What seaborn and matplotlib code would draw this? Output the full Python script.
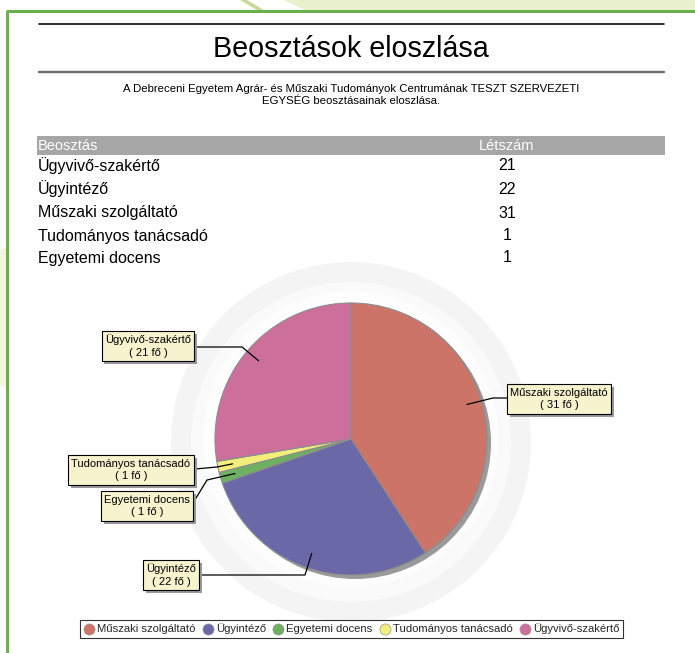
import numpy as np
import matplotlib
matplotlib.use('Agg')
import matplotlib.pyplot as plt
import matplotlib.patheffects as pe
from matplotlib.patches import Rectangle, Circle, Polygon
from matplotlib.lines import Line2D
import seaborn as sns

# DATA
title = 'Beosztások eloszlása'
subtitle = ('A Debreceni Egyetem Agrár- és Műszaki Tudományok Centrumának TESZT SZERVEZETI\n'
            'EGYSÉG beosztásainak eloszlása.')
table_head = ['Beosztás', 'Létszám']
positions = ['Ügyvivő-szakértő', 'Ügyintéző', 'Műszaki szolgáltató',
             'Tudományos tanácsadó', 'Egyetemi docens']
counts = [21, 22, 31, 1, 1]
pie_order = ['Műszaki szolgáltató', 'Ügyintéző', 'Egyetemi docens',
             'Tudományos tanácsadó', 'Ügyvivő-szakértő']
slice_colors = ['#CC7468', '#6B68A8', '#6DB060', '#F2EE7C', '#CC709B']

# layout (pixels, y from top)
W, H = 695, 653
def Y(y):
    return H - y

sns.set_theme(style='white')
plt.rcParams['font.family'] = ['Liberation Sans', 'DejaVu Sans']

fig = plt.figure(figsize=(W / 100, H / 100), dpi=100)
ax = fig.add_axes([0, 0, 1, 1])
ax.set_axis_off()

px = 0.72  # 1 px in points

# green frame decoration
ax.add_patch(Polygon([(284, Y(0)), (W, Y(0)), (W, Y(10)), (305, Y(10))],
                     closed=True, fc='#E8F0CC', ec='none', zorder=0))
ax.add_patch(Polygon([(240, Y(0)), (247, Y(0)), (264, Y(10)), (257, Y(10))],
                     closed=True, fc='#C6DA98', ec='none', zorder=0))
ax.add_patch(Polygon([(0, Y(250)), (6, Y(247)), (6, Y(388)), (0, Y(385))],
                     closed=True, fc='#F3F6DC', ec='none', zorder=0))
ax.plot([6, W], [Y(11), Y(11)], color='#6AB04C', lw=3 * px, solid_capstyle='butt', zorder=1)
ax.plot([7, 7], [Y(11), 0], color='#6AB04C', lw=3 * px, solid_capstyle='butt', zorder=1)

# header lines and titles
ax.plot([39, 664], [Y(24), Y(24)], color='black', lw=1.6 * px)
ax.plot([39, 664], [Y(72), Y(72)], color='#6E6E6E', lw=2.4 * px)
ax.text(351, Y(49), title, ha='center', va='center', fontsize=20.7, color='black')
ax.text(351, Y(95), subtitle, ha='center', va='center', fontsize=8.2,
        color='black', linespacing=1.3)

# table
ax.add_patch(Rectangle((37, Y(155)), 628, 19, fc='#A6A6A6', ec='none'))
ax.text(38, Y(146), table_head[0], ha='left', va='center', fontsize=10.5, color='white')
ax.text(507, Y(146), table_head[1], ha='center', va='center', fontsize=10.5, color='white')
row_y = [166, 189, 213, 236, 258]
for ry, name, n in zip(row_y, positions, counts):
    ax.text(38, Y(ry), name, ha='left', va='center', fontsize=11.5, color='black')
    ax.text(507, Y(ry), str(n), ha='center', va='center', fontsize=11.5, color='black')

# faint seal watermark
cx, cy, R = 351, Y(439), 136
ax.add_patch(Circle((cx, cy - 3), 180, fc='#F4F4F4', ec='none', zorder=0.5))
ax.add_patch(Circle((cx, cy - 3), 160, fc='#FAFAFA', ec='none', zorder=0.6))
ax.add_patch(Circle((cx, cy), 148, fc='#FDFDFD', ec='none', zorder=0.7))

# pie with shadow
lookup = dict(zip(positions, counts))
values = [lookup[p] for p in pie_order]
ax.add_patch(Circle((cx + 4, cy - 4), R, fc='#9A9A9A', ec='none', zorder=1))
wedges, _ = ax.pie(values, colors=slice_colors, startangle=90, counterclock=False,
                   center=(cx, cy), radius=R, frame=True,
                   wedgeprops=dict(edgecolor='#8C8C8C', linewidth=0.8, zorder=2))

# callouts
box_center = {
    'Ügyvivő-szakértő': (148, 346),
    'Műszaki szolgáltató': (559, 399),
    'Tudományos tanácsadó': (131, 470),
    'Egyetemi docens': (147, 506),
    'Ügyintéző': (171, 575),
}
elbow = {
    'Ügyvivő-szakértő': (242, 347),
    'Műszaki szolgáltató': (493, 398),
    'Tudományos tanácsadó': (217, 467),
    'Egyetemi docens': (207, 480),
    'Ügyintéző': (305, 575),
}
box_edge = {
    'Ügyvivő-szakértő': (193, 347),
    'Műszaki szolgáltató': (509, 398),
    'Tudományos tanácsadó': (195, 469),
    'Egyetemi docens': (193, 503),
    'Ügyintéző': (199, 575),
}
for w, name, n in zip(wedges, pie_order, values):
    mid = np.deg2rad((w.theta1 + w.theta2) / 2)
    ax_, ay_ = cx + 0.89 * R * np.cos(mid), cy + 0.89 * R * np.sin(mid)
    ex, ey = elbow[name]
    bx, by = box_edge[name]
    ax.plot([ax_, ex, bx], [ay_, Y(ey), Y(by)], color='black', lw=0.9, zorder=3)
    tx, ty = box_center[name]
    t = ax.text(tx, Y(ty), f'{name}\n( {n} fő )', ha='center', va='center', fontsize=8,
                color='black', linespacing=1.35, zorder=4,
                bbox=dict(boxstyle='square,pad=0.3', fc='#F6F3CE', ec='black', lw=0.8))
    t.get_bbox_patch().set_path_effects([
        pe.SimplePatchShadow(offset=(2, -2), shadow_rgbFace='#9A9A9A', alpha=1.0),
        pe.Normal()])

ax.set_xlim(0, W)
ax.set_ylim(0, H)
ax.set_aspect('equal')
ax.set_axis_off()

# legend
handles = [Line2D([], [], marker='o', ls='none', markersize=8,
                  markerfacecolor=c, markeredgecolor='#999999', markeredgewidth=0.5)
           for c in slice_colors]
leg = fig.legend(handles, pie_order, loc='center', ncol=5,
                 bbox_to_anchor=(351.5 / W, 1 - 629 / H), fontsize=8.1,
                 frameon=True, fancybox=False, edgecolor='black',
                 handletextpad=0.2, columnspacing=0.6, borderpad=0.35,
                 handlelength=1.0, borderaxespad=0)
leg.get_frame().set_linewidth(0.8)

fig.savefig('out.png', dpi=100, facecolor='white')
